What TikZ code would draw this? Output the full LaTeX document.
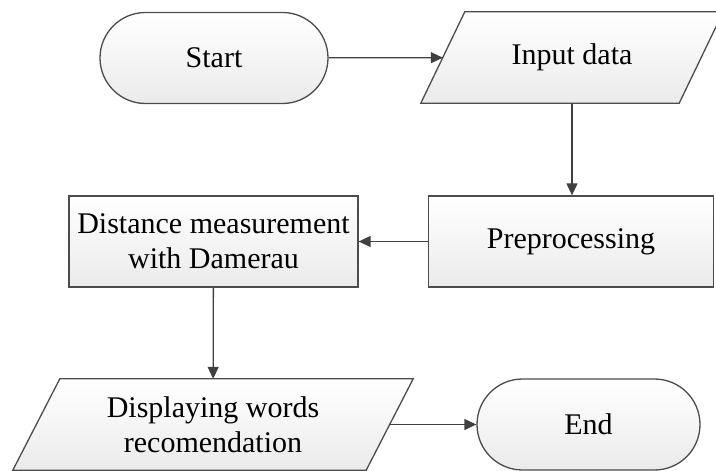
\documentclass[tikz,border=0pt]{standalone}
\usepackage{fontspec}
\setmainfont{Liberation Serif}
\usepackage{tikz}
\usetikzlibrary{arrows.meta,shapes.misc,backgrounds}
\newcommand{\para}[2]{\draw[iob]([xshift=-#2]#1.south west)--([xshift=#2]#1.north west)
  --([xshift=#2]#1.north east)--([xshift=-#2]#1.south east)--cycle;}

\begin{document}
\begin{tikzpicture}[x=1pt,y=-1pt,font=\fontsize{30}{35}\selectfont,
  >={Triangle[length=12pt,width=11pt]},
  box/.style={draw=black!70,line width=1.3pt,top color=white,bottom color=black!8,
    minimum height=91pt,align=center,inner sep=2pt},
  term/.style={box,rounded rectangle},
  proc/.style={box,rectangle},
  io/.style={rectangle,minimum height=91pt,align=center,inner sep=2pt},
  iob/.style={draw=black!70,line width=1.3pt,top color=white,bottom color=black!8},
  line/.style={->,draw=black!75,line width=1.3pt}]
  \useasboundingbox (0,0) rectangle (716,471);
  % top row
  \node[term,minimum width=232pt](start) at (214,58){Start};
  \node[io,minimum width=258pt](input) at (572,57.5){Input data};
  % middle row
  \node[proc,minimum width=285pt](prep) at (571,241.5){Preprocessing};
  \node[proc,minimum width=289pt](dist) at (213.5,241.5){Distance measurement\\with Damerau};
  % bottom row
  \node[io,minimum width=353pt](disp) at (213,424.5){Displaying words\\recomendation};
  \node[term,minimum width=227pt](end) at (588.5,424.5){End};
  % slanted in/out shapes behind their text
  \begin{scope}[on background layer]
    \clip (0,0) rectangle (716,471);
    \para{input}{22pt}
    \para{disp}{23.5pt}
  \end{scope}
  \draw[line](start)--(input);
  \draw[line](input.south)--(input.south|-prep.north);
  \draw[line](prep)--(dist);
  \draw[line](dist)--(disp);
  \draw[line](disp)--(end);
\end{tikzpicture}
\end{document}
